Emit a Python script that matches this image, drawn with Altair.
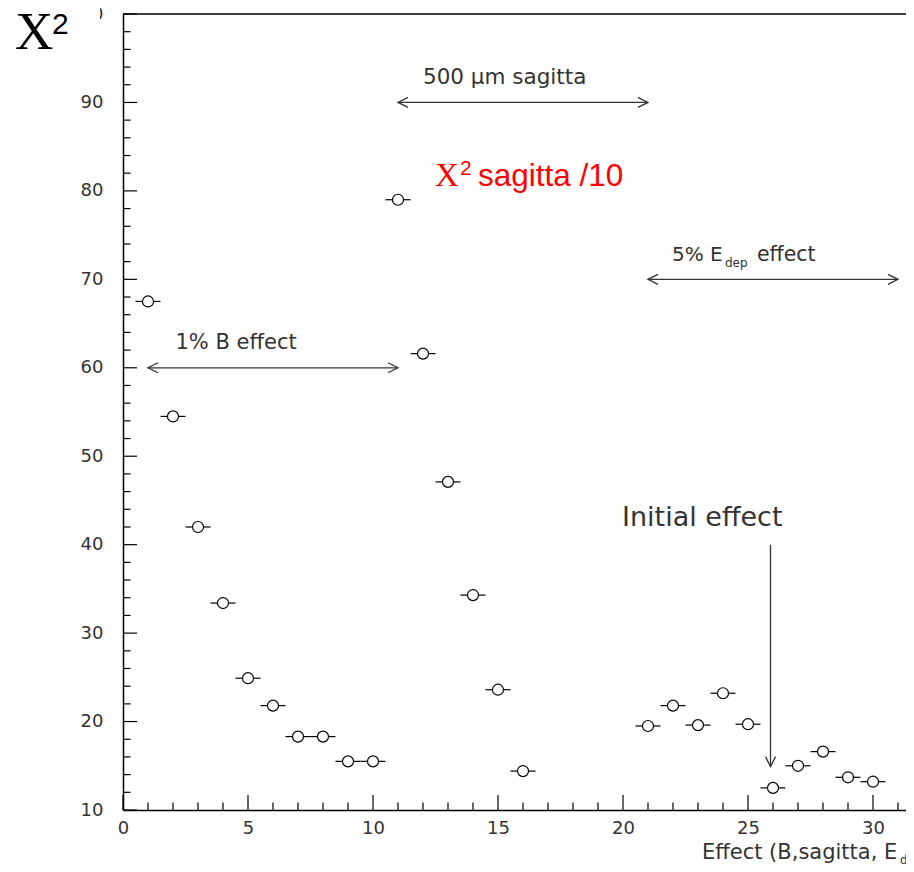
import altair as alt
import pandas as pd

# ---- data ----
effect = [1, 2, 3, 4, 5, 6, 7, 8, 9, 10, 11, 12, 13, 14, 15, 16,
          21, 22, 23, 24, 25, 26, 27, 28, 29, 30]
chi2 = [67.5, 54.5, 42.0, 33.4, 24.9, 21.8, 18.3, 18.3, 15.5, 15.5,
        79.0, 61.6, 47.1, 34.3, 23.6, 14.4,
        19.5, 21.8, 19.6, 23.2, 19.7, 12.5, 15.0, 16.6, 13.7, 13.2]
x_err = 0.5

x_major = [0, 5, 10, 15, 20, 25, 30]
x_minor = [v for v in range(0, 32) if v % 5 != 0]
y_major = [10, 20, 30, 40, 50, 60, 70, 80, 90, 100]
y_minor = [v for v in range(10, 101, 2) if v % 10 != 0]

# horizontal double arrows: (start, end, level)
h_arrow_x1 = [11, 1, 21]
h_arrow_x2 = [21, 11, 31]
h_arrow_y = [90, 60, 70]
# vertical arrow "Initial effect"
v_arrow_x = [25.9]
v_arrow_top = [40.0]
v_arrow_tip = [14.9]

XMAX = 31.32
W, H = 783, 796
INK = "#333333"
FONT = "DejaVu Sans"

xs = alt.Scale(domain=[0, XMAX], nice=False, zero=False)
ys = alt.Scale(domain=[10, 100], nice=False, zero=False)

xa = alt.Axis(values=x_major, title=None, ticks=False, tickSize=0, grid=False,
              domainColor="black", domainWidth=1.5, labelFont=FONT,
              labelFontSize=18, labelColor=INK, labelPadding=9,
              labelFlush=False, labelOverlap=False, zindex=0)
ya = alt.Axis(values=y_major, title=None, ticks=False, tickSize=0, grid=False,
              domainColor="black", domainWidth=1.5, labelFont=FONT,
              labelFontSize=18, labelColor=INK, labelPadding=20,
              labelFlush=False, labelOverlap=False, zindex=0)


def X(f="x"):
    return alt.X(f"{f}:Q", scale=xs, axis=xa)


def Y(f="y"):
    return alt.Y(f"{f}:Q", scale=ys, axis=ya)


pts = pd.DataFrame({"x": effect, "y": chi2})
pts["lo"] = pts["x"] - x_err
pts["hi"] = pts["x"] + x_err

top = alt.Chart(pd.DataFrame({"x": [0], "x2": [XMAX], "y": [100]})).mark_rule(
    color="black", strokeWidth=1.5).encode(x=X(), x2="x2:Q", y=Y())

ytm = alt.Chart(pd.DataFrame({"y": y_major})).mark_rule(color="black", strokeWidth=1.2).encode(
    y=Y(), x=alt.value(0), x2=alt.value(14))
ytn = alt.Chart(pd.DataFrame({"y": y_minor})).mark_rule(color="black", strokeWidth=1.2).encode(
    y=Y(), x=alt.value(0), x2=alt.value(7.5))
xtm = alt.Chart(pd.DataFrame({"x": x_major})).mark_rule(color="black", strokeWidth=1.2).encode(
    x=X(), y=alt.value(H), y2=alt.value(H - 15))
xtn = alt.Chart(pd.DataFrame({"x": x_minor})).mark_rule(color="black", strokeWidth=1.2).encode(
    x=X(), y=alt.value(H), y2=alt.value(H - 7.5))

err = alt.Chart(pts).mark_rule(color="black", strokeWidth=1.2).encode(
    x=X("lo"), x2="hi:Q", y=Y())
circ = alt.Chart(pts).mark_point(shape="circle", filled=True, fill="white",
                                 stroke="black", strokeWidth=1.2, size=121,
                                 opacity=1).encode(x=X(), y=Y())

harr = pd.DataFrame({"x": h_arrow_x1, "x2": h_arrow_x2, "y": h_arrow_y})
hline = alt.Chart(harr).mark_rule(color=INK, strokeWidth=1.3).encode(
    x=X(), x2="x2:Q", y=Y())
lhead = alt.Chart(harr).mark_point(shape="M 1 -0.5 L 0 0 L 1 0.5", filled=False,
                                   size=400, color=INK, strokeWidth=1.3,
                                   opacity=1).encode(x=X(), y=Y())
rhead = alt.Chart(harr).mark_point(shape="M -1 -0.5 L 0 0 L -1 0.5", filled=False,
                                   size=400, color=INK, strokeWidth=1.3,
                                   opacity=1).encode(x=X("x2"), y=Y())
varr = pd.DataFrame({"x": v_arrow_x, "y": v_arrow_top, "y2": v_arrow_tip})
vline = alt.Chart(varr).mark_rule(color=INK, strokeWidth=1.3).encode(
    x=X(), y=Y(), y2="y2:Q")
dhead = alt.Chart(varr).mark_point(shape="M -0.5 -1 L 0 0 L 0.5 -1", filled=False,
                                   size=400, color=INK, strokeWidth=1.3,
                                   opacity=1).encode(x=X(), y=Y("y2"))


def label(text, x, y, size, color=INK, font=FONT, weight=400, baseline="middle"):
    return alt.Chart(pd.DataFrame({"x": [x], "y": [y], "t": [text]})).mark_text(
        align="left", baseline=baseline, font=font, fontSize=size, color=color,
        fontWeight=weight).encode(x=X(), y=Y(), text="t:N")


cover = alt.Chart(pd.DataFrame({"x": [-4.9], "x2": [-0.92], "y": [92.1], "y2": [101.0]})).mark_rect(
    color="white").encode(x=X(), x2="x2:Q", y=Y(), y2="y2:Q")

texts = [
    label("500 \u03bcm sagitta", 12.0, 92.8, 21.5),
    label("1% B effect", 2.1, 62.8, 21),
    label("5% E", 21.96, 72.8, 20),
    label("dep", 24.08, 71.9, 12),
    label("effect", 25.36, 72.8, 20.5),
    label("Initial effect", 19.96, 43.0, 27),
    label("Effect (B,sagitta, E", 23.16, 5.1, 21),
    label("dep", 31.08, 4.3, 12),
    label("X", 12.48, 80.5, 33, color="red", font="Liberation Serif", baseline="alphabetic"),
    label("2", 13.48, 81.8, 21, color="red", font="Liberation Sans", baseline="alphabetic"),
    label("sagitta /10", 14.2, 80.5, 31.5, color="red", font="Liberation Sans", baseline="alphabetic"),
    label("X", -4.32, 96.0, 53, color="black", font="Liberation Serif", baseline="alphabetic"),
    label("2", -2.84, 97.7, 30, color="black", font="Liberation Sans", baseline="alphabetic"),
]

chart = alt.layer(
    top, ytm, ytn, xtm, xtn, err, circ, hline, lhead, rhead, vline, dhead,
    cover, *texts
).properties(
    width=W, height=H,
    padding={"left": 115, "top": 6, "right": 0, "bottom": 54},
    autosize=alt.AutoSizeParams(type="none"),
    background="white",
).configure_view(strokeWidth=0)

chart.save("out.html", embed_options={"renderer": "svg", "actions": False})
